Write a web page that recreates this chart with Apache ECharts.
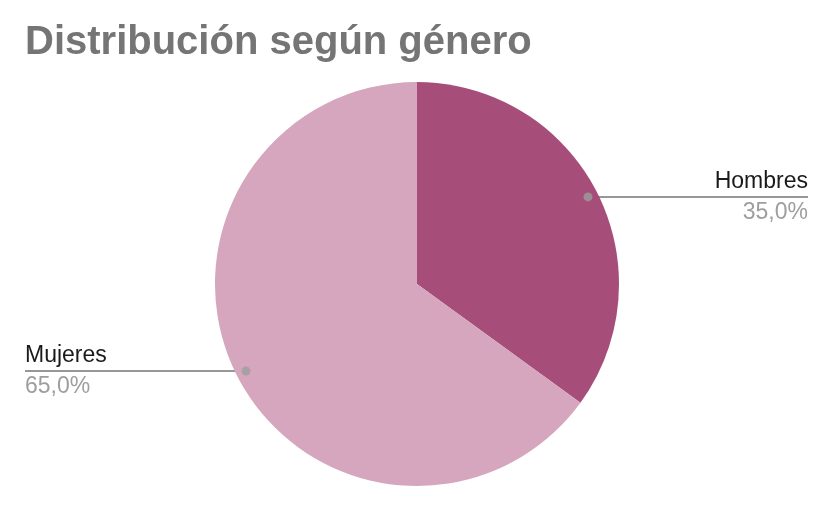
<!DOCTYPE html>
<html>
<head>
<meta charset="utf-8">
<script src="https://cdn.jsdelivr.net/npm/echarts@6/dist/echarts.min.js"></script>
<style>
  html, body { margin: 0; padding: 0; background: #fff; }
  #main { width: 834px; height: 512px; }
</style>
</head>
<body>
<div id="main"></div>
<script>
var categories = ['Hombres', 'Mujeres'];
var values = [35.0, 65.0];
var colors = ['#a64d79', '#d5a6bd'];

var chartDom = document.getElementById('main');
var myChart = echarts.init(chartDom);

var centerY = 284;
var radius = 202;
var dotRatio = 0.95;

// mid angle of each slice, in percent of the full turn, clockwise from 12 o'clock
var total = values.reduce(function (a, b) { return a + b; }, 0);
var midPct = [];
var acc = 0;
values.forEach(function (v) {
  midPct.push((acc + v / 2) / total * 100);
  acc += v;
});

function fmt(v) {
  return v.toFixed(1).replace('.', ',') + '%';
}

var option = {
  backgroundColor: '#ffffff',
  animation: false,
  title: {
    text: 'Distribución según género',
    left: 20,
    top: 18,
    textStyle: {
      fontFamily: 'Liberation Sans, Arial, sans-serif',
      fontSize: 40,
      fontWeight: 'bold',
      color: '#757575'
    }
  },
  polar: {
    center: ['50%', centerY],
    radius: radius
  },
  angleAxis: {
    type: 'value', min: 0, max: 100, startAngle: 90, clockwise: true, show: false
  },
  radiusAxis: {
    type: 'value', min: 0, max: 1, show: false
  },
  series: [
    {
      type: 'pie',
      center: ['50%', centerY],
      radius: radius,
      startAngle: 90,
      clockwise: true,
      data: categories.map(function (c, i) {
        return { name: c, value: values[i], itemStyle: { color: colors[i] } };
      }),
      itemStyle: { borderWidth: 0 },
      emphasis: { disabled: true },
      label: {
        show: true,
        position: 'outer',
        alignTo: 'edge',
        edgeDistance: 26,
        formatter: function (p) {
          return '{n|' + p.name + '}\n{p|' + fmt(p.value) + '}';
        },
        rich: {
          n: { fontFamily: 'Liberation Sans, Arial, sans-serif', fontSize: 23, color: '#1a1a1a', lineHeight: 31 },
          p: { fontFamily: 'Liberation Sans, Arial, sans-serif', fontSize: 23, color: '#9e9e9e', lineHeight: 31 }
        }
      },
      labelLine: {
        show: true,
        length: 0,
        length2: 10,
        lineStyle: { color: '#757575', width: 1.5 }
      },
      labelLayout: function (p) {
        var a = midPct[p.dataIndex] / 100 * Math.PI * 2;
        var cx = myChart.getWidth() / 2;
        var dx = cx + radius * dotRatio * Math.sin(a);
        var dy = centerY - radius * dotRatio * Math.cos(a);
        var isLeft = Math.sin(a) < 0;
        var endX = isLeft ? 25 : myChart.getWidth() - 26;
        return {
          x: endX,
          y: dy,
          align: isLeft ? 'left' : 'right',
          verticalAlign: 'middle',
          labelLinePoints: [[dx, dy], [dx, dy], [endX, dy]]
        };
      }
    },
    {
      type: 'scatter',
      coordinateSystem: 'polar',
      symbol: 'circle',
      symbolSize: 9,
      z: 5,
      silent: true,
      itemStyle: { color: '#9e9e9e' },
      data: midPct.map(function (m) { return [dotRatio, m]; })
    }
  ]
};

option && myChart.setOption(option);
</script>
</body>
</html>
